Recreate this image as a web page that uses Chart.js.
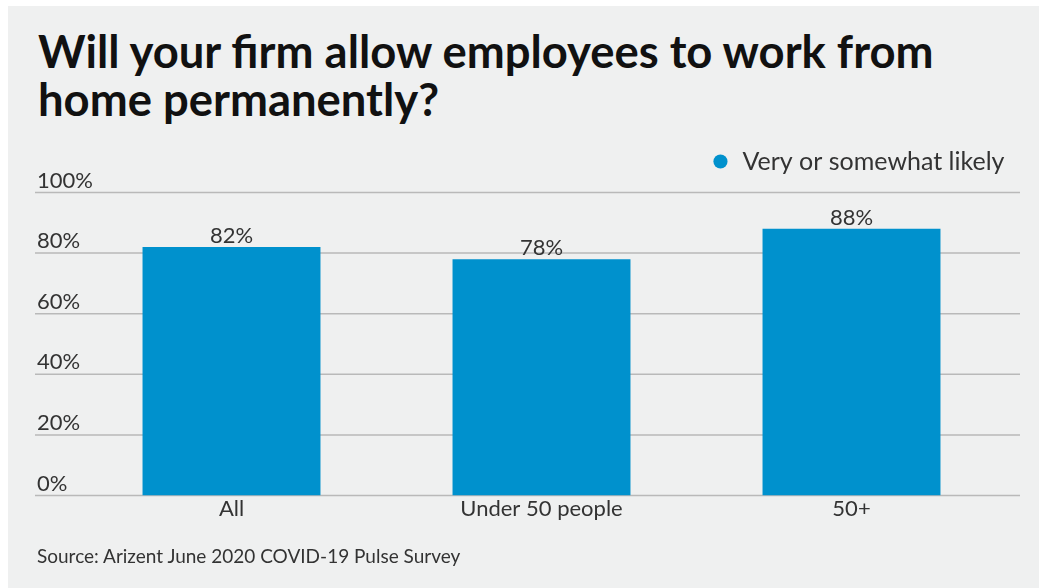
<!DOCTYPE html>
<html>
<head>
<meta charset="utf-8">
<script src="https://cdn.jsdelivr.net/npm/chart.js@4.4.1/dist/chart.umd.min.js"></script>
<style>
  html, body { margin: 0; padding: 0; background: #ffffff; }
  #wrap { position: relative; width: 1039px; height: 588px; overflow: hidden; }
  #bg { position: absolute; left: 8px; top: 6px; right: 0; bottom: 0; background: #eff0f0; }
  #title { position: absolute; left: 38px; top: 27px; font-family: Lato, sans-serif; font-weight: 700;
           font-size: 45.4px; line-height: 48px; color: #111; margin: 0; white-space: nowrap; }
  #source { position: absolute; left: 37px; top: 545px; font-family: Lato, sans-serif; font-size: 19px;
            line-height: 22px; color: #333; white-space: nowrap; }
  canvas { position: absolute; left: 0; top: 0; }
</style>
</head>
<body>
<div id="wrap">
  <div id="bg"></div>
  <div id="title">Will your firm allow employees to work from<br>home permanently?</div>
  <canvas id="c" width="1039" height="588"></canvas>
  <div id="source">Source: Arizent June 2020 COVID-19 Pulse Survey</div>
</div>
<script>
const categories = ["All", "Under 50 people", "50+"];
const seriesName = "Very or somewhat likely";
const seriesValues = [82, 78, 88];
const yTicks = [0, 20, 40, 60, 80, 100];

const FONT = "Lato, sans-serif";
const BAR = "#0091cd";
const TEXT = "#333333";

const gridPlugin = {
  id: "gridExtend",
  beforeDatasetsDraw(chart) {
    const y = chart.scales.y;
    const ctx = chart.ctx;
    ctx.save();
    ctx.strokeStyle = "#b9b9b9";
    ctx.lineWidth = 1.5;
    y.ticks.forEach(t => {
      const py = y.getPixelForValue(t.value);
      ctx.beginPath();
      ctx.moveTo(35, py);
      ctx.lineTo(1020, py);
      ctx.stroke();
    });
    ctx.restore();
  }
};

const labelPlugin = {
  id: "barLabels",
  afterDatasetsDraw(chart) {
    const ctx = chart.ctx;
    const meta = chart.getDatasetMeta(0);
    ctx.save();
    ctx.font = "22px " + FONT;
    ctx.fillStyle = TEXT;
    ctx.textAlign = "center";
    ctx.textBaseline = "middle";
    meta.data.forEach((bar, i) => {
      ctx.fillText(seriesValues[i] + "%", bar.x, bar.y - 11);
    });
    ctx.restore();
  }
};

new Chart(document.getElementById("c"), {
  type: "bar",
  data: {
    labels: categories,
    datasets: [{
      label: seriesName,
      data: seriesValues,
      backgroundColor: BAR,
      borderWidth: 0,
      categoryPercentage: 1,
      barPercentage: 0.574
    }]
  },
  options: {
    responsive: false,
    animation: false,
    layout: { padding: { left: 37, right: 32.5, top: 147, bottom: 62.5 } },
    plugins: {
      legend: {
        position: "top",
        align: "end",
        labels: {
          usePointStyle: true,
          pointStyle: "circle",
          boxWidth: 19,
          boxHeight: 10,
          padding: 2,
          color: TEXT,
          font: { family: FONT, size: 25 }
        }
      },
      tooltip: { enabled: false },
      title: { display: false }
    },
    scales: {
      x: {
        grid: { display: false, drawTicks: false },
        border: { display: false },
        ticks: { color: TEXT, font: { family: FONT, size: 22 }, padding: 0 },
        afterFit(s) { s.height = 30; }
      },
      xTop: {
        type: "category",
        position: "top",
        display: true,
        grid: { display: false, drawTicks: false },
        border: { display: false },
        ticks: { display: false },
        afterFit(s) { s.height = 8.5; }
      },
      y: {
        min: 0, max: 100,
        afterBuildTicks(s) { s.ticks = yTicks.map(v => ({ value: v })); },
        grid: { display: false, drawTicks: false },
        border: { display: false },
        ticks: {
          color: TEXT,
          font: { family: FONT, size: 22 },
          mirror: true,
          padding: -39.5,
          labelOffset: -12,
          callback: v => v + "%"
        },
        afterFit(s) { s.width = 39.5; }
      }
    }
  },
  plugins: [gridPlugin, labelPlugin]
});
</script>
</body>
</html>
